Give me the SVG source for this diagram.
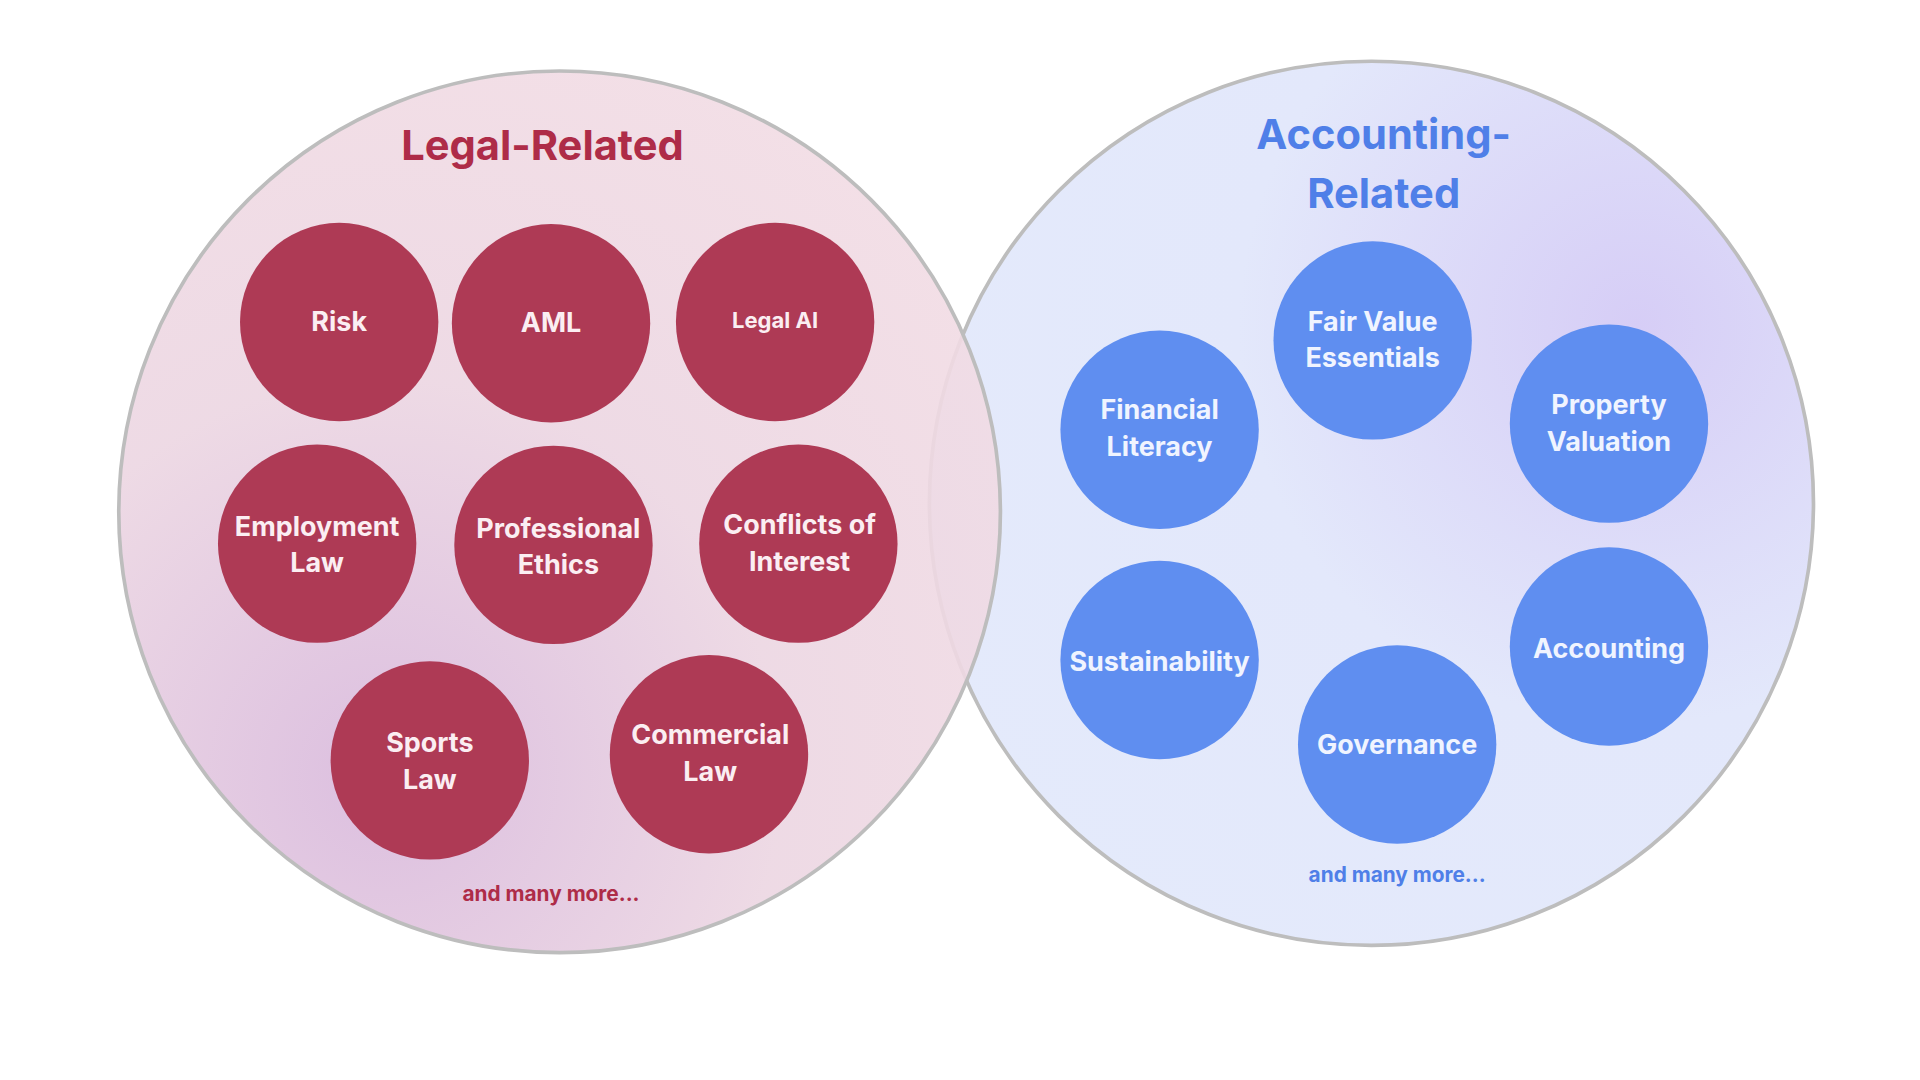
<svg xmlns="http://www.w3.org/2000/svg" width="1920" height="1080" viewBox="0 0 1920 1080">
<style>
.big{stroke:#bdbdbd;stroke-width:3}
.r{fill:#ae3a55}
.b{fill:#5f8ef0}
text{font-family:Inter,"Open Sans","Liberation Sans",sans-serif;font-weight:700;text-anchor:middle}
.lbl{fill:#fbeef2;font-size:22px}
.lblb{fill:#f0f4ff;font-size:22px}
.sm{font-size:18px}
</style>
<defs>
<radialGradient id="gl" cx="0.3" cy="0.8" r="0.9">
<stop offset="0" stop-color="#d8b8dc"/><stop offset="0.5" stop-color="#ecd6e2"/><stop offset="1" stop-color="#f2dce4"/>
</radialGradient>
<radialGradient id="gr" cx="0.8" cy="0.3" r="0.9">
<stop offset="0" stop-color="#d6cdf6"/><stop offset="0.5" stop-color="#e3e8fb"/><stop offset="1" stop-color="#e4eafb"/>
</radialGradient>
</defs>
<rect width="1920" height="1080" fill="#fff"/>
<g transform="scale(1.2245)">
<g id="accounting-circle"><circle class="big" cx="1120" cy="411" r="361" fill="url(#gr)"/></g>
<g id="legal-circle"><circle class="big" cx="457" cy="418" r="360" fill="url(#gl)" fill-opacity="0.9"/></g>
<text x="443" y="131" font-size="34" fill="#ae2c48">Legal-Related</text>
<text x="1130" y="122" font-size="34" fill="#4f7fe8">Accounting-</text>
<text x="1130" y="170" font-size="34" fill="#4f7fe8">Related</text>
<g id="risk"><circle class="r" cx="277" cy="263" r="81"/><text class="lbl" x="277" y="270">Risk</text></g>
<g id="aml"><circle class="r" cx="450" cy="264" r="81"/><text class="lbl" x="450" y="271">AML</text></g>
<g id="legalai"><circle class="r" cx="633" cy="263" r="81"/><text class="lbl sm" x="633" y="268">Legal AI</text></g>
<g id="employment"><circle class="r" cx="259" cy="444" r="81"/><text class="lbl" x="259" y="438">Employment</text><text class="lbl" x="259" y="467">Law</text></g>
<g id="ethics"><circle class="r" cx="452" cy="445" r="81"/><text class="lbl" x="456" y="439">Professional</text><text class="lbl" x="456" y="469">Ethics</text></g>
<g id="conflicts"><circle class="r" cx="652" cy="444" r="81"/><text class="lbl" x="653" y="436">Conflicts of</text><text class="lbl" x="653" y="466">Interest</text></g>
<g id="sports"><circle class="r" cx="351" cy="621" r="81"/><text class="lbl" x="351" y="614">Sports</text><text class="lbl" x="351" y="644">Law</text></g>
<g id="commercial"><circle class="r" cx="579" cy="616" r="81"/><text class="lbl" x="580" y="608">Commercial</text><text class="lbl" x="580" y="638">Law</text></g>
<text x="450" y="736" font-size="17" fill="#ae2c48">and many more...</text>
<g id="fairvalue"><circle class="b" cx="1121" cy="278" r="81"/><text class="lblb" x="1121" y="270">Fair Value</text><text class="lblb" x="1121" y="300">Essentials</text></g>
<g id="finlit"><circle class="b" cx="947" cy="351" r="81"/><text class="lblb" x="947" y="342">Financial</text><text class="lblb" x="947" y="372">Literacy</text></g>
<g id="property"><circle class="b" cx="1314" cy="346" r="81"/><text class="lblb" x="1314" y="338">Property</text><text class="lblb" x="1314" y="368">Valuation</text></g>
<g id="sustainability"><circle class="b" cx="947" cy="539" r="81"/><text class="lblb" x="947" y="548">Sustainability</text></g>
<g id="accounting"><circle class="b" cx="1314" cy="528" r="81"/><text class="lblb" x="1314" y="537">Accounting</text></g>
<g id="governance"><circle class="b" cx="1141" cy="608" r="81"/><text class="lblb" x="1141" y="616">Governance</text></g>
<text x="1141" y="720" font-size="17" fill="#4f7fe8">and many more...</text>
</g>
<g id="connectors"/>
</svg>
